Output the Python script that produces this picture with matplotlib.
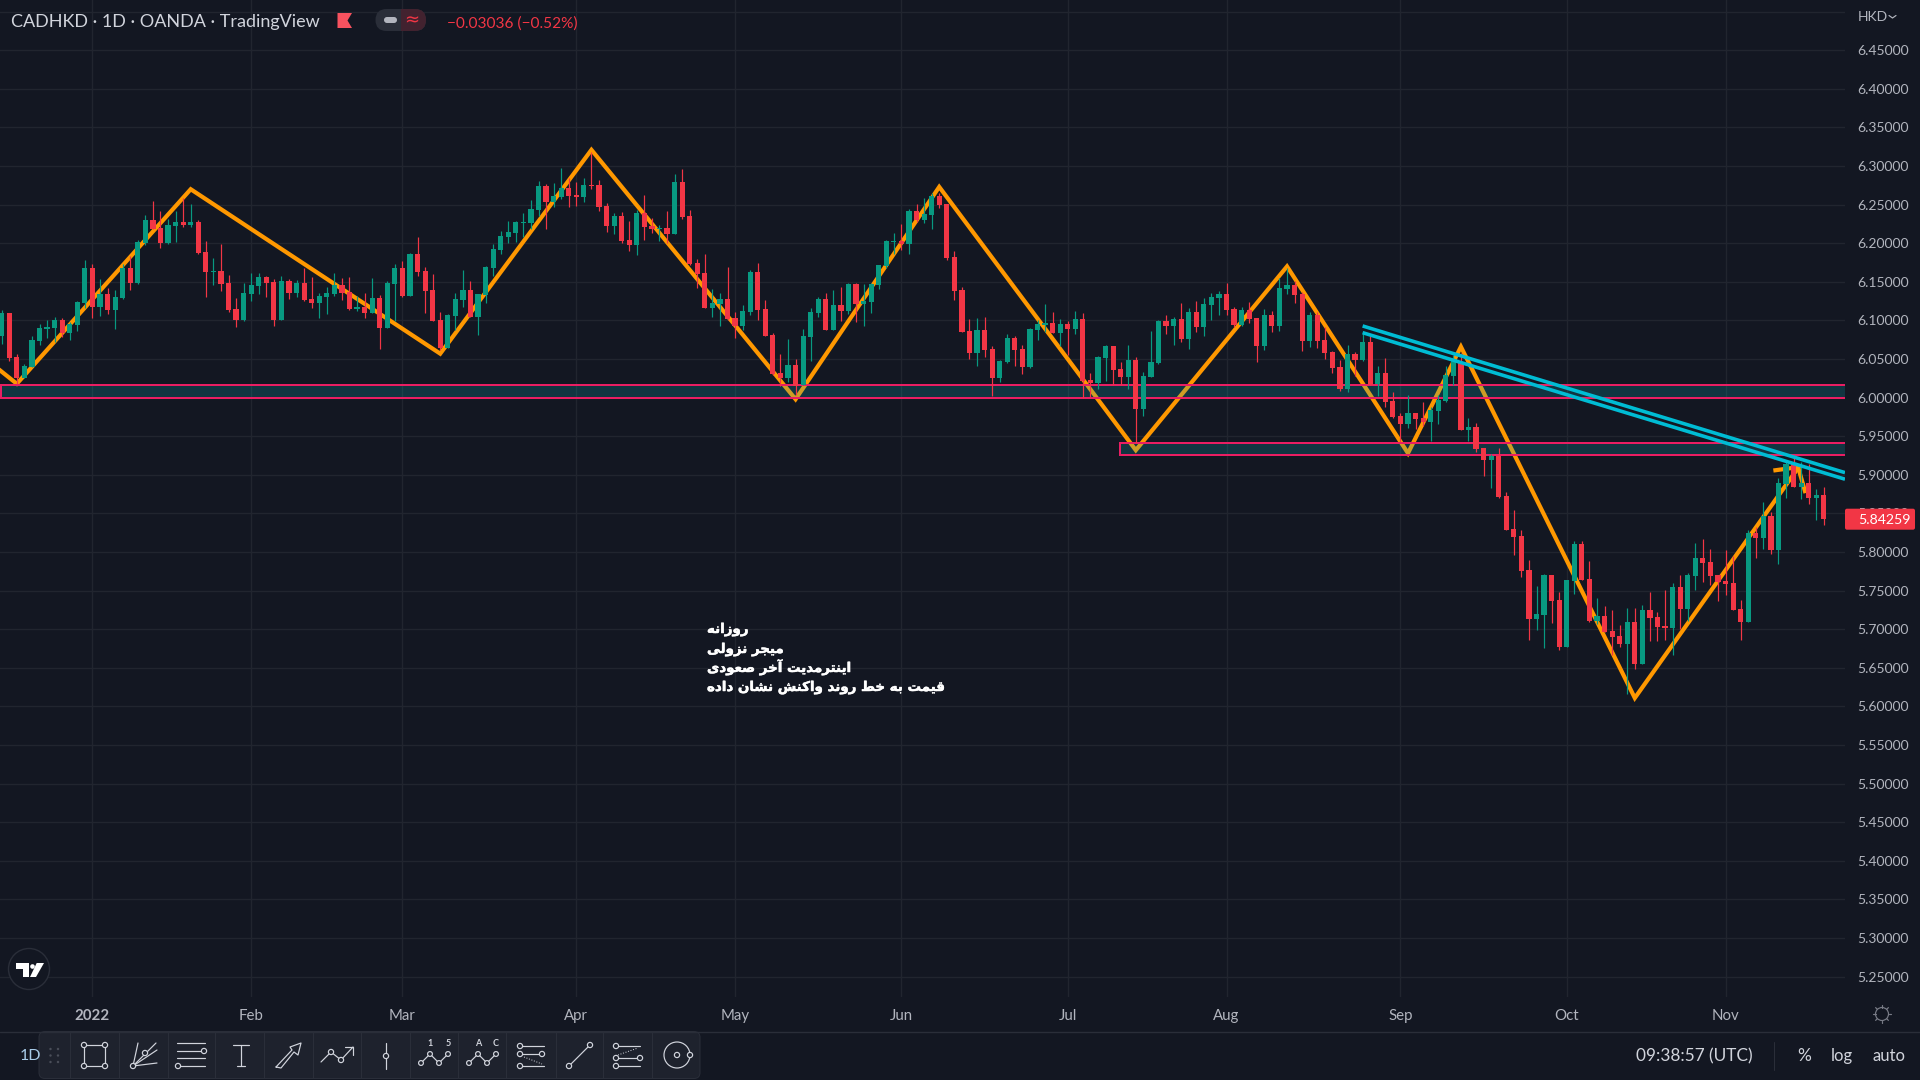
import matplotlib
matplotlib.use("Agg")
import matplotlib.pyplot as plt
import matplotlib.patheffects as pe
from matplotlib.patches import Rectangle, Circle, Polygon, FancyBboxPatch

# ---------------- data ----------------
opens = [
6.0800,6.1098,6.0528,6.0256,6.0398,6.0735,6.0890,6.0903,6.1007,6.0839,
6.0942,6.1227,6.1680,6.1175,6.1344,6.1136,6.1292,6.1680,6.1486,6.2004,
6.2302,6.2199,6.2004,6.2225,6.2276,6.2237,6.2276,6.1888,6.1629,6.1642,
6.1486,6.1149,6.1007,6.1344,6.1447,6.1564,6.1499,6.1007,6.1512,6.1357,
6.1486,6.1279,6.1227,6.1305,6.1344,6.1460,6.1370,6.1149,6.1175,6.1098,
6.1292,6.0903,6.1473,6.1680,6.1318,6.1862,6.1642,6.1396,6.1007,6.0644,
6.1059,6.1266,6.1396,6.1046,6.1331,6.1680,6.1914,6.2082,6.2134,6.2263,
6.2263,6.2432,6.2743,6.2535,6.2600,6.2717,6.2626,6.2600,6.2756,6.2756,
6.2484,6.2225,6.2354,6.2043,6.1978,6.2393,6.2225,6.2186,6.2199,6.2121,
6.2794,6.2354,6.1745,6.1616,6.1162,6.1214,6.1279,6.1033,6.0929,6.1111,
6.1629,6.1149,6.0813,6.0320,6.0256,6.0424,6.0165,6.0787,6.1098,6.1279,
6.0877,6.1201,6.1123,6.1473,6.1214,6.1240,6.1460,6.1706,6.2017,6.2030,
6.1991,6.2419,6.2302,6.2367,6.2613,6.2509,6.1823,6.1395,6.0864,6.0579,
6.0877,6.0631,6.0255,6.0463,6.0774,6.0631,6.0398,6.0877,6.0942,6.0968,
6.0838,6.0955,6.0890,6.1020,6.0230,6.0191,6.0514,6.0670,6.0372,6.0268,
6.0489,5.9854,6.0268,6.0450,6.0994,6.0929,6.1020,6.0761,6.1110,6.0916,
6.1201,6.1292,6.1343,6.1149,6.0942,6.1136,6.1033,6.0670,6.1071,6.0929,
6.1408,6.1460,6.1343,6.0735,6.1071,6.0748,6.0592,6.0398,6.0113,6.0566,
6.0489,6.0722,6.0178,6.0320,5.9957,5.9763,5.9660,5.9802,5.9737,5.9685,
5.9828,5.9957,6.0281,6.0462,5.9581,5.9616,5.9348,5.9193,5.9245,5.8727,
5.8299,5.8208,5.7768,5.7133,5.7185,5.7703,5.7379,5.6771,5.7625,5.8105,
5.7651,5.7107,5.7172,5.6978,5.6913,5.6809,5.7094,5.6550,5.7250,5.7159,
5.7043,5.7017,5.7548,5.7263,5.7690,5.7923,5.7872,5.7703,5.7625,5.7600,
5.7263,5.7094,5.8247,5.8182,5.8467,5.8027,5.8882,5.9141,5.8843,5.8895,
5.8701,5.8739]
highs = [
6.1136,6.1098,6.0567,6.0437,6.0800,6.0955,6.1007,6.1046,6.1033,6.0981,
6.1253,6.1784,6.1732,6.1538,6.1421,6.1396,6.1732,6.1836,6.2043,6.2367,
6.2548,6.2419,6.2315,6.2419,6.2587,6.2509,6.2302,6.2030,6.1810,6.1991,
6.1590,6.1292,6.1486,6.1616,6.1616,6.1577,6.1538,6.1577,6.1538,6.1525,
6.1680,6.1564,6.1357,6.1434,6.1616,6.1551,6.1564,6.1318,6.1357,6.1551,
6.1331,6.1512,6.1732,6.1771,6.1875,6.2082,6.1693,6.1603,6.1111,6.1085,
6.1357,6.1655,6.1512,6.1344,6.1706,6.1991,6.2160,6.2289,6.2289,6.2393,
6.2561,6.2807,6.2769,6.2781,6.2976,6.2846,6.2794,6.2846,6.3183,6.2820,
6.2522,6.2393,6.2406,6.2289,6.2432,6.2626,6.2328,6.2237,6.2419,6.2898,
6.2963,6.2432,6.1797,6.1862,6.1408,6.1357,6.1693,6.1111,6.1201,6.1655,
6.1745,6.1266,6.0839,6.0567,6.0761,6.0502,6.0890,6.1162,6.1305,6.1357,
6.1396,6.1434,6.1486,6.1486,6.1473,6.1486,6.1719,6.2043,6.2134,6.2250,
6.2445,6.2509,6.2587,6.2652,6.2652,6.2509,6.1901,6.1434,6.1020,6.1033,
6.1046,6.0670,6.0489,6.0825,6.0799,6.0683,6.0903,6.1007,6.1214,6.1110,
6.1020,6.0994,6.1123,6.1097,6.0320,6.0540,6.0683,6.0670,6.0463,6.0683,
6.0527,6.0333,6.0864,6.1007,6.1071,6.1046,6.1227,6.1162,6.1253,6.1292,
6.1356,6.1382,6.1486,6.1175,6.1175,6.1240,6.1033,6.1149,6.1123,6.1551,
6.1680,6.1512,6.1369,6.1110,6.1110,6.0916,6.0605,6.0489,6.0683,6.0592,
6.0851,6.0799,6.0411,6.0514,6.0074,5.9802,6.0035,5.9802,5.9945,5.9880,
6.0035,6.0411,6.0553,6.0579,5.9737,5.9672,5.9348,5.9271,5.9348,5.8778,
5.8545,5.8286,5.7898,5.7561,5.7716,5.7703,5.7483,5.7638,5.8144,5.8144,
5.7885,5.7405,5.7302,5.7250,5.7056,5.7276,5.7276,5.7315,5.7483,5.7224,
5.7509,5.7600,5.7703,5.7729,5.8118,5.8170,5.8040,5.7703,5.8027,5.7949,
5.7379,5.8286,5.8325,5.8649,5.8519,5.8960,5.9193,5.9219,5.9167,5.9141,
5.8817,5.8843]
lows = [
6.0696,6.0480,6.0178,6.0256,6.0398,6.0683,6.0774,6.0722,6.0787,6.0748,
6.0864,6.1162,6.1033,6.1059,6.1085,6.0890,6.1279,6.1396,6.1473,6.1978,
6.2186,6.1940,6.1991,6.2017,6.2212,6.2212,6.1862,6.1305,6.1460,6.1383,
6.1111,6.0916,6.0994,6.1253,6.1344,6.1305,6.0929,6.1007,6.1279,6.1305,
6.1253,6.1162,6.1033,6.1085,6.1318,6.1266,6.1136,6.1123,6.1033,6.1098,
6.0631,6.0903,6.0994,6.1305,6.1318,6.1577,6.1098,6.0994,6.0618,6.0644,
6.0877,6.1175,6.1046,6.0813,6.1227,6.1577,6.1862,6.2004,6.2017,6.2082,
6.2186,6.2354,6.2186,6.2471,6.2574,6.2471,6.2484,6.2535,6.2704,6.2419,
6.2147,6.2121,6.2004,6.1901,6.1849,6.2043,6.2134,6.2030,6.2004,6.2121,
6.2315,6.1719,6.1421,6.1162,6.1046,6.0929,6.1007,6.0774,6.0877,6.1072,
6.1007,6.0800,6.0294,6.0152,6.0204,6.0035,6.0165,6.0476,6.1046,6.0877,
6.0877,6.0994,6.1085,6.0981,6.0929,6.1098,6.1408,6.1680,6.1862,6.1914,
6.1862,6.2276,6.2263,6.2186,6.2458,6.1784,6.1266,6.0851,6.0502,6.0411,
6.0527,6.0022,6.0204,6.0450,6.0411,6.0307,6.0385,6.0748,6.0851,6.0838,
6.0670,6.0553,6.0825,5.9996,6.0009,6.0113,6.0217,6.0165,6.0165,6.0113,
5.9414,5.9763,6.0268,6.0437,6.0825,6.0683,6.0722,6.0631,6.0851,6.0799,
6.1007,6.1071,6.1071,6.0916,6.0929,6.0968,6.0463,6.0618,6.0851,6.0864,
6.1343,6.1227,6.0605,6.0657,6.0644,6.0502,6.0320,6.0087,6.0074,6.0281,
6.0476,6.0165,6.0022,5.9880,5.9737,5.9426,5.9608,5.9595,5.9634,5.9439,
5.9659,5.9944,6.0164,5.9581,5.9439,5.9296,5.8986,5.8830,5.8701,5.8286,
5.7962,5.7677,5.6861,5.6991,5.6758,5.7082,5.6732,5.6771,5.7457,5.7638,
5.7094,5.7069,5.6965,5.6667,5.6771,5.6162,5.6486,5.6550,5.6848,5.6848,
5.6861,5.6667,5.7004,5.7107,5.7509,5.7613,5.7574,5.7366,5.7444,5.7250,
5.6861,5.7094,5.7923,5.8040,5.7975,5.7846,5.8701,5.8843,5.8688,5.8623,
5.8416,5.8351]
closes = [
6.1098,6.0515,6.0256,6.0411,6.0748,6.0903,6.0916,6.1007,6.0839,6.0955,
6.1240,6.1680,6.1175,6.1344,6.1136,6.1305,6.1680,6.1486,6.2017,6.2302,
6.2186,6.2004,6.2237,6.2276,6.2237,6.2276,6.1875,6.1629,6.1642,6.1473,
6.1136,6.1007,6.1357,6.1460,6.1564,6.1486,6.1007,6.1512,6.1357,6.1486,
6.1266,6.1227,6.1318,6.1357,6.1460,6.1357,6.1149,6.1175,6.1098,6.1292,
6.0903,6.1486,6.1680,6.1318,6.1862,6.1629,6.1383,6.0994,6.0644,6.1072,
6.1279,6.1396,6.1046,6.1344,6.1693,6.1927,6.2095,6.2147,6.2276,6.2276,
6.2445,6.2743,6.2535,6.2613,6.2717,6.2613,6.2600,6.2756,6.2743,6.2471,
6.2225,6.2354,6.2030,6.1978,6.2393,6.2212,6.2186,6.2199,6.2121,6.2794,
6.2341,6.1732,6.1603,6.1162,6.1227,6.1279,6.1020,6.0929,6.1123,6.1629,
6.1136,6.0800,6.0307,6.0256,6.0424,6.0152,6.0800,6.1111,6.1279,6.0877,
6.1201,6.1123,6.1473,6.1214,6.1253,6.1473,6.1719,6.2030,6.2030,6.1991,
6.2419,6.2302,6.2380,6.2613,6.2497,6.1810,6.1383,6.0851,6.0579,6.0877,
6.0618,6.0255,6.0476,6.0774,6.0618,6.0398,6.0890,6.0955,6.0968,6.0838,
6.0955,6.0890,6.1020,6.0217,6.0191,6.0527,6.0670,6.0359,6.0268,6.0489,
5.9854,6.0281,6.0463,6.0994,6.0929,6.1020,6.0761,6.1110,6.0916,6.1214,
6.1305,6.1343,6.1136,6.0942,6.1136,6.1020,6.0670,6.1071,6.0929,6.1421,
6.1460,6.1331,6.0735,6.1071,6.0735,6.0579,6.0385,6.0113,6.0566,6.0489,
6.0722,6.0165,6.0320,5.9945,5.9750,5.9660,5.9802,5.9724,5.9685,5.9841,
5.9970,6.0294,6.0475,5.9581,5.9616,5.9335,5.9193,5.9245,5.8714,5.8286,
5.8195,5.7755,5.7133,5.7198,5.7703,5.7366,5.6771,5.7638,5.8105,5.7638,
5.7107,5.7172,5.6965,5.6900,5.6809,5.7094,5.6550,5.7250,5.7146,5.7030,
5.7017,5.7548,5.7263,5.7703,5.7923,5.7859,5.7690,5.7613,5.7587,5.7250,
5.7094,5.8247,5.8182,5.8467,5.8027,5.8895,5.9141,5.8843,5.8895,5.8701,
5.8739,5.84259]
assert len(opens) == len(highs) == len(lows) == len(closes) == 242

zigzag_bar = [-0.3, 2, 25, 58, 78, 105, 124, 150, 170, 186, 193, 216, 237.6]
zigzag_px = [6.036, 6.018, 6.270, 6.057, 6.321, 5.998, 6.273, 5.932, 6.170, 5.928, 6.066, 5.611, 5.909]
pullback_bar = [234.6, 237.6, 238.5]
pullback_px = [5.906, 5.910, 5.879]
trend_bar = [180, 243.8]
trend_upper = [6.0929, 5.9029]
trend_lower = [6.0842, 5.8944]
zone_a = (-0.1, 6.0, 6.0165)
zone_b = (147.9, 5.9258, 5.9413)

price_ticks = [5.25 + 0.05 * i for i in range(25)]
grid_prices = price_ticks + [6.50]
month_bars = [12, 33, 53, 76, 97, 119, 141, 162, 185, 207, 228]
month_labels = ["2022", "Feb", "Mar", "Apr", "May", "Jun", "Jul", "Aug", "Sep", "Oct", "Nov"]
last_price = 5.84259
title = "CADHKD · 1D · OANDA · TradingView"
change_text = "−0.03036 (−0.52%)"
note_lines = ["روزانه", "میجر نزولی", "اینترمدیت آخر صعودی", "قیمت به خط روند واکنش نشان داده"]

# ---------------- palette ----------------
BG = "#131722"; GRID = "#21252f"; UP = "#089981"; DOWN = "#f23645"
ORANGE = "#ff9800"; CYAN = "#00bcd4"; PINK = "#e91e63"
AXTXT = "#b2b5be"; LIGHT = "#d1d4dc"; LINE = "#2a2e39"; PANEL = "#1e222d"
UI_FONT = ["Lato", "DejaVu Sans"]
PX = 0.72

# ---------------- Persian shaping (no shaper in matplotlib) ----------------
FORMS = {
 "ا": (0xFE8D, 0xFE8E), "آ": (0xFE81, 0xFE82), "د": (0xFEA9, 0xFEAA), "ر": (0xFEAD, 0xFEAE),
 "ز": (0xFEAF, 0xFEB0), "و": (0xFEED, 0xFEEE),
 "ب": (0xFE8F, 0xFE90, 0xFE91, 0xFE92), "ت": (0xFE95, 0xFE96, 0xFE97, 0xFE98),
 "ج": (0xFE9D, 0xFE9E, 0xFE9F, 0xFEA0), "خ": (0xFEA5, 0xFEA6, 0xFEA7, 0xFEA8),
 "ش": (0xFEB5, 0xFEB6, 0xFEB7, 0xFEB8), "ص": (0xFEB9, 0xFEBA, 0xFEBB, 0xFEBC),
 "ط": (0xFEC1, 0xFEC2, 0xFEC3, 0xFEC4), "ع": (0xFEC9, 0xFECA, 0xFECB, 0xFECC),
 "ق": (0xFED5, 0xFED6, 0xFED7, 0xFED8), "ل": (0xFEDD, 0xFEDE, 0xFEDF, 0xFEE0),
 "م": (0xFEE1, 0xFEE2, 0xFEE3, 0xFEE4), "ن": (0xFEE5, 0xFEE6, 0xFEE7, 0xFEE8),
 "ه": (0xFEE9, 0xFEEA, 0xFEEB, 0xFEEC), "ک": (0xFB8E, 0xFB8F, 0xFB90, 0xFB91),
 "ی": (0xFBFC, 0xFBFD, 0xFBFE, 0xFBFF),
}

def shape(s):
    out = []
    for i, ch in enumerate(s):
        f = FORMS.get(ch)
        if f is None:
            out.append(ch)
            continue
        prev = s[i - 1] if i else " "
        nxt = s[i + 1] if i + 1 < len(s) else " "
        from_prev = prev in FORMS and len(FORMS[prev]) == 4
        to_next = len(f) == 4 and nxt in FORMS
        if from_prev and to_next:
            g = f[3]
        elif from_prev:
            g = f[1]
        elif to_next:
            g = f[2]
        else:
            g = f[0]
        out.append(chr(g))
    return "".join(reversed(out))

# ---------------- chart ----------------
fig = plt.figure(figsize=(19.2, 10.8), dpi=100, facecolor=BG)
ax = fig.add_axes([0, 83 / 1080, 1845 / 1920, 997 / 1080], facecolor=BG)
ax.set_xlim(-0.225, 243.8)
ax.set_ylim(5.2237, 6.5151)
for s in ax.spines.values():
    s.set_visible(False)
ax.set_axisbelow(True)
ax.hlines(grid_prices, -1, 244, color=GRID, lw=1.4 * PX, zorder=1)
ax.vlines(month_bars, 5.2, 6.6, color=GRID, lw=1.4 * PX, zorder=1)

ax.plot(zigzag_bar, zigzag_px, color=ORANGE, lw=4.2 * PX, zorder=2, solid_joinstyle="miter")
ax.plot(pullback_bar, pullback_px, color=ORANGE, lw=4.2 * PX, zorder=2, solid_joinstyle="miter")

for x0, lo, hi in (zone_a, zone_b):
    ax.add_patch(Rectangle((x0, lo), 260 - x0, hi - lo, facecolor=(10 / 255, 178 / 255, 190 / 255, 0.2),
                           edgecolor=PINK, lw=2 * PX, zorder=3))

xs = list(range(len(opens)))
cols = [UP if c >= o else DOWN for o, c in zip(opens, closes)]
ax.vlines(xs, lows, highs, colors=cols, lw=1.2 * PX, zorder=4)
ax.bar(xs, [abs(c - o) for o, c in zip(opens, closes)], bottom=[min(o, c) for o, c in zip(opens, closes)],
       width=5.2 / 7.56, color=cols, linewidth=0, zorder=4)

ax.plot(trend_bar, trend_upper, color=CYAN, lw=3.6 * PX, zorder=5, solid_capstyle="butt")
ax.plot(trend_bar, trend_lower, color=CYAN, lw=3.6 * PX, zorder=5, solid_capstyle="butt")

ax.yaxis.tick_right()
ax.set_yticks(price_ticks, [f"{p:.5f}" for p in price_ticks])
ax.set_xticks(month_bars, month_labels)
ax.tick_params(axis="y", length=0, pad=9, labelcolor=AXTXT, labelsize=10)
ax.tick_params(axis="x", length=0, pad=8.8, labelcolor=AXTXT, labelsize=10.8)
for lab in ax.get_yticklabels() + ax.get_xticklabels():
    lab.set_family(UI_FONT)
ax.get_xticklabels()[0].set_fontweight("bold")

# ---------------- interface chrome, in pixels ----------------
ui = fig.add_axes([0, 0, 1, 1], facecolor="none", zorder=10)
ui.set_xlim(0, 1920)
ui.set_ylim(1080, 0)
ui.axis("off")

def seg(pts, color=LIGHT, lw=1.2, ls="-"):
    ui.plot([p[0] for p in pts], [p[1] for p in pts], color=color, lw=lw * PX, ls=ls, solid_capstyle="round")

def dot(x, y, r=2.6, color=LIGHT, fc=PANEL, lw=1.2):
    ui.add_patch(Circle((x, y), r, facecolor=fc, edgecolor=color, lw=lw * PX, zorder=12))

def txt(x, y, s, color=LIGHT, size=10, ha="left", weight="normal", family=None):
    return ui.text(x, y, s, color=color, fontsize=size, ha=ha, va="center", fontweight=weight,
                   family=family or UI_FONT)

# header
txt(11, 22, title, size=13)
ui.add_patch(Polygon([(337.5, 13), (352, 13), (347.5, 20.5), (352, 28), (337.5, 28)], facecolor="#f7525f", lw=0))
base = FancyBboxPatch((375.5, 9), 50.5, 22, boxstyle="round,pad=0,rounding_size=11", facecolor=LINE, lw=0)
ui.add_patch(base)
tint = Rectangle((401, 9), 26, 22, facecolor="#42222f", lw=0)
ui.add_patch(tint)
tint.set_clip_path(base)
ui.add_patch(FancyBboxPatch((384, 17), 13, 6, boxstyle="round,pad=0,rounding_size=3", facecolor=AXTXT, lw=0))
txt(412, 20, "≈", color=DOWN, size=13, ha="center", family=["DejaVu Sans"])
txt(447, 23.5, change_text, color=DOWN, size=11.1)

# price axis extras
txt(1858, 17, "HKD", color=AXTXT, size=10)
seg([(1889, 15.5), (1892.5, 18), (1896, 15.5)], color=AXTXT)
y_last = 1080 - ax.transData.transform((0, last_price))[1]
ui.add_patch(FancyBboxPatch((1845, y_last - 10.5), 70, 21, boxstyle="round,pad=0,rounding_size=2", facecolor=DOWN, lw=0))
txt(1858, y_last + 1, f"{last_price:.5f}", color="white", size=10.2)

# note
for y, line in zip((633, 653, 672, 691), note_lines):
    ui.text(707, y, shape(line), color="white", fontsize=9.65, fontweight="bold", ha="left", va="baseline",
            family=["DejaVu Sans"], path_effects=[pe.withStroke(linewidth=0.35, foreground="white")])

# logo
ui.add_patch(Circle((29, 969), 20.5, facecolor=BG, edgecolor=LINE, lw=1.4 * PX))
ui.add_patch(Polygon([(16, 963), (28.5, 963), (28.5, 977), (23, 977), (23, 968.5), (16, 968.5)], facecolor="white", lw=0))
ui.add_patch(Circle((32.5, 966.5), 2.3, facecolor="white", lw=0))
ui.add_patch(Polygon([(36.7, 963), (44, 963), (36, 977), (30, 977)], facecolor="white", lw=0))

# bottom bar
seg([(0, 1031.5), (1920, 1031.5)], color=LINE, lw=1.4)
ui.add_patch(FancyBboxPatch((39, 1031.5), 661, 47, boxstyle="round,pad=0,rounding_size=6", facecolor=PANEL, edgecolor=LINE, lw=1 * PX))
txt(20, 1056, "1D", color="#a8cbe8", size=11.5)
for sx in (70, 118.5, 167.5, 215, 264, 313, 361, 409.5, 458, 506, 555.5, 603, 652):
    seg([(sx, 1032), (sx, 1078)], color=LINE, lw=1)
for gx in (50.5, 58):
    for gy in (1049, 1055.5, 1062):
        ui.add_patch(Circle((gx, gy), 1.2, facecolor="#4a4e59", lw=0))

# drawing tools
seg([(84, 1045), (105, 1045), (105, 1066), (84, 1066), (84, 1045)])
for p in ((84, 1045), (105, 1045), (84, 1066), (105, 1066)):
    dot(*p)
for p in ((138, 1043), (156, 1043), (157, 1050), (157, 1063)):
    seg([(133, 1066), p])
dot(133, 1066); dot(145, 1053)
for y in (1043, 1051, 1058, 1066):
    seg([(177, y), (205, y)])
dot(204, 1051); dot(178, 1066)
seg([(233, 1045), (249, 1045)]); seg([(241, 1045), (241, 1066)]); seg([(237, 1066), (245, 1066)])
seg([(276, 1067), (281, 1068), (294, 1052), (298, 1055), (301, 1043), (290, 1047), (292, 1050), (276, 1067)])
seg([(321, 1062), (331, 1052), (341, 1060), (353, 1047)])
seg([(345, 1047), (353, 1047), (353, 1055)])
dot(331, 1052); dot(341, 1060)
seg([(386, 1043), (386, 1069)]); dot(386, 1056)
for shift, labels in ((0, ("1", "5")), (48, ("A", "C"))):
    pts = [(421 + shift, 1063), (430 + shift, 1054), (439 + shift, 1063), (448 + shift, 1054)]
    seg(pts)
    for p in pts:
        dot(*p, r=2.4)
    txt(430 + shift, 1044, labels[0], size=6.5, ha="center", weight="bold")
    txt(448 + shift, 1044, labels[1], size=6.5, ha="center", weight="bold")
for y, x1 in ((1046, 544), (1054, 542), (1066, 544)):
    seg([(520, y), (x1, y)])
dot(520, 1046); dot(520, 1054); dot(542, 1054); dot(520, 1066)
seg([(524, 1057), (542, 1064)], lw=1, ls=":")
seg([(569, 1066), (590, 1045)]); dot(569, 1066); dot(590, 1045)
for y in (1046, 1058, 1066):
    seg([(616, y), (640, y)])
dot(616, 1046); dot(616, 1058); dot(640, 1058); dot(616, 1066)
seg([(618, 1055), (638, 1048)], lw=1, ls=":")
ui.add_patch(Circle((677, 1055), 13, facecolor="none", edgecolor=LIGHT, lw=1.2 * PX))
dot(677, 1055); dot(690, 1055)

# right of the bottom bar
txt(1636, 1056, "09:38:57 (UTC)", size=12.4)
seg([(1774, 1042), (1774, 1070)], color=LINE, lw=1)
txt(1804, 1056, "%", size=12.5, ha="center")
txt(1842, 1056, "log", size=12, ha="center")
txt(1889, 1056, "auto", size=12, ha="center")
ui.add_patch(Circle((1882, 1014), 6.5, facecolor="none", edgecolor="#787b86", lw=1.2 * PX))
for a, b in (((1882, 1005), (1882, 1007.5)), ((1882, 1020.5), (1882, 1023)), ((1873, 1014), (1875.5, 1014)),
             ((1888.5, 1014), (1891, 1014)), ((1875.6, 1007.6), (1877.4, 1009.4)), ((1886.6, 1018.6), (1888.4, 1020.4)),
             ((1888.4, 1007.6), (1886.6, 1009.4)), ((1877.4, 1018.6), (1875.6, 1020.4))):
    seg([a, b], color="#787b86")

fig.savefig("out.png", dpi=100, facecolor=BG)
